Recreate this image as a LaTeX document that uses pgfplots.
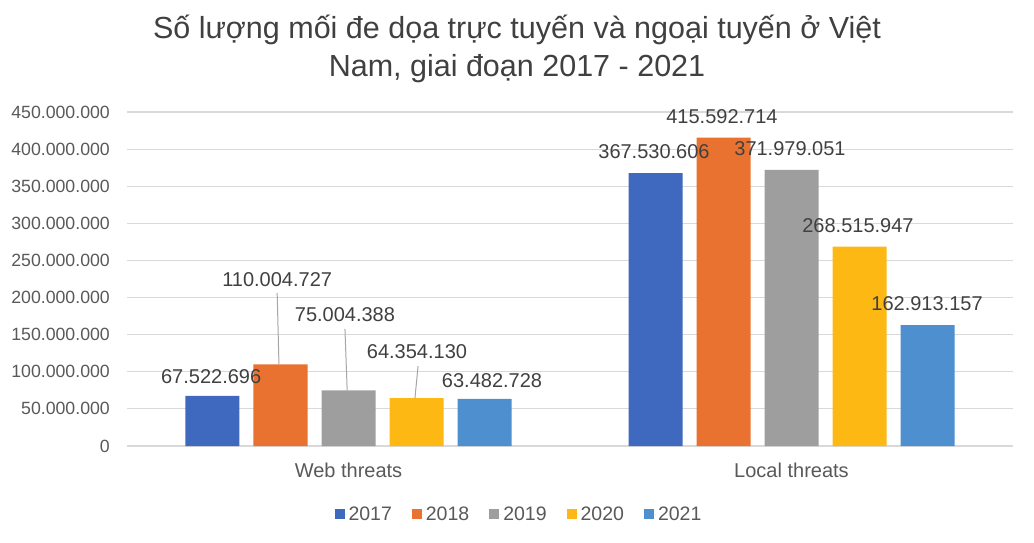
\documentclass[border=0pt]{standalone}
\usepackage{pgfplots}
\pgfplotsset{compat=1.18}
\usepackage{fontspec}
\setmainfont{Liberation Sans}
\definecolor{c2017}{HTML}{3F69BE}
\definecolor{c2018}{HTML}{EA7230}
\definecolor{c2019}{HTML}{9E9E9E}
\definecolor{c2020}{HTML}{FDB813}
\definecolor{c2021}{HTML}{4E8FD0}
\definecolor{gridc}{HTML}{D9D9D9}
\definecolor{tickc}{HTML}{595959}
\definecolor{labc}{HTML}{404040}
\definecolor{leadc}{HTML}{A6A6A6}
\begin{document}
\begin{tikzpicture}
\useasboundingbox (0,0) rectangle (1034pt,542pt);
\node[anchor=base, text=labc, font=\fontsize{30.5}{36}\selectfont] at (517pt,503pt) {Số lượng mối đe dọa trực tuyến và ngoại tuyến ở Việt};
\node[anchor=base, text=labc, font=\fontsize{30.5}{36}\selectfont] at (517pt,465pt) {Nam, giai đoạn 2017 - 2021};
\begin{axis}[
  at={(127pt,96pt)}, anchor=south west,
  scale only axis, width=886pt, height=334pt,
  xmin=-0.5, xmax=1.5, ymin=0, ymax=450,
  clip=false,
  ybar=14pt, bar width=54pt,
  axis x line=bottom, axis y line=left,
  axis line style={draw=none},
  ymajorgrids, grid style={draw=gridc, line width=1.2pt},
  major tick length=0pt,
  ytick={0,50,100,150,200,250,300,350,400,450},
  yticklabels={0,50.000.000,100.000.000,150.000.000,200.000.000,250.000.000,300.000.000,350.000.000,400.000.000,450.000.000},
  xtick={0,1},
  xticklabels={Web threats,Local threats},
  /pgf/number format/assume math mode=true,
  yticklabel style={font=\fontsize{17.7}{20}\selectfont, text=tickc, inner sep=0pt, xshift=-17pt},
  xticklabel style={font=\fontsize{20}{22}\selectfont, text=tickc, anchor=base, yshift=-31pt, inner sep=0pt},
  legend columns=5,
  legend style={draw=none, at={(0.4424,-0.2036)}, anchor=center,
    font=\fontsize{19.5}{22}\selectfont, text=tickc,
    /tikz/every even column/.append style={column sep=18pt},
    inner sep=0pt},
  legend image code/.code={\fill[#1] (0pt,-5pt) rectangle (10pt,5pt); \path (10pt,0pt) -- (12pt,0pt);},
]
\addplot[fill=c2017, draw=none] coordinates {(0,67.522696) (1,367.530606)};
\addplot[fill=c2018, draw=none] coordinates {(0,110.004727) (1,415.592714)};
\addplot[fill=c2019, draw=none] coordinates {(0,75.004388) (1,371.979051)};
\addplot[fill=c2020, draw=none] coordinates {(0,64.354130) (1,268.515947)};
\addplot[fill=c2021, draw=none] coordinates {(0,63.482728) (1,162.913157)};
\legend{2017,2018,2019,2020,2021}
% leader lines
\draw[leadc, line width=1pt] (axis cs:-0.161,206.2) -- (axis cs:-0.157,110.004727);
\draw[leadc, line width=1pt] (axis cs:-0.008,157.7) -- (axis cs:-0.003,75.004388);
\draw[leadc, line width=1pt] (axis cs:0.157,107.8) -- (axis cs:0.150,64.354130);
% data labels
\begin{scope}[every node/.style={text=labc, font=\fontsize{20}{24}\selectfont, inner sep=0pt, anchor=center}]
\node at (axis cs:-0.310,93.0) {67.522.696};
\node at (axis cs:-0.161,223.7) {110.004.727};
\node at (axis cs:-0.008,176.5) {75.004.388};
\node at (axis cs:0.1546,126.7) {64.354.130};
\node at (axis cs:0.324,87.6) {63.482.728};
\node at (axis cs:0.6896,396.2) {367.530.606};
\node at (axis cs:0.843,443.4) {415.592.714};
\node at (axis cs:0.9966,400.3) {371.979.051};
\node at (axis cs:1.150,296.5) {268.515.947};
\node at (axis cs:1.306,191.4) {162.913.157};
\end{scope}
\end{axis}
\end{tikzpicture}
\end{document}
